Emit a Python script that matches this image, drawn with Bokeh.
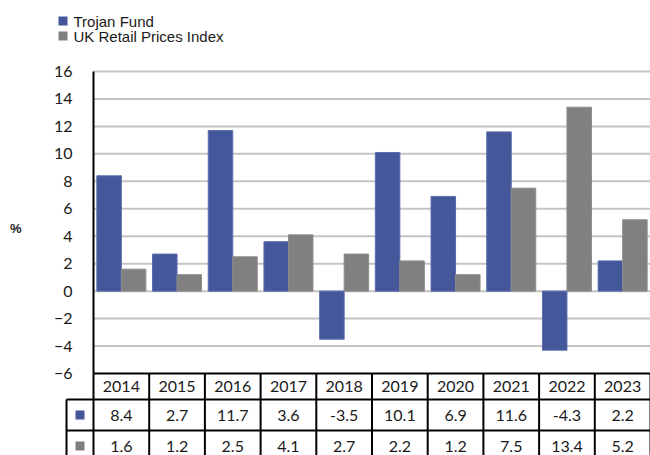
from bokeh.plotting import figure
from bokeh.models import Range1d, FixedTicker, ColumnDataSource, LinearAxis
from bokeh.embed import file_html
from bokeh.resources import INLINE
from bokeh.core.properties import value

# ---------------- data ----------------
years = ["2014", "2015", "2016", "2017", "2018", "2019", "2020", "2021", "2022", "2023"]
trojan_fund = [8.4, 2.7, 11.7, 3.6, -3.5, 10.1, 6.9, 11.6, -4.3, 2.2]
uk_rpi = [1.6, 1.2, 2.5, 4.1, 2.7, 2.2, 1.2, 7.5, 13.4, 5.2]
series_names = ["Trojan Fund", "UK Retail Prices Index"]
y_ticks = [-6, -4, -2, 0, 2, 4, 6, 8, 10, 12, 14, 16]

# ---------------- style / layout (pixels, figure coordinates) ----------------
BLUE = "#44579b"
GREY = "#808080"
colors = [BLUE, GREY]
NUM_FONT = "Lato"
LEG_FONT = "Liberation Sans"
TXT = "#1a1a1a"

W, H = 650, 455
BORDER_L = 54             # room for the y-axis panels
AXIS_X = 93               # where the value axis sits
PLOT_TOP = 71             # top of the value area (y = 16)
PLOT_H = 302              # height of value area (16 .. -6)
n = len(years)
CAT_W = (W - AXIS_X) / n  # width of one year column
PPU_Y = PLOT_H / (y_ticks[-1] - y_ticks[0])
MARK_W = 27               # marker column of the table
ROW_H = [26, 31, 31]
BAR_W = 0.44

frame_w = W - BORDER_L
x0 = -(AXIS_X - BORDER_L) / CAT_W
y1 = y_ticks[-1] + PLOT_TOP / PPU_Y
y0 = y1 - H / PPU_Y


def px_x(px):
    """figure pixel x -> data x"""
    return (px - AXIS_X) / CAT_W


def px_y(py):
    """figure pixel y (down) -> data y"""
    return y_ticks[-1] - (py - PLOT_TOP) / PPU_Y


p = figure(width=W, height=H, x_range=Range1d(x0, x0 + frame_w / CAT_W), y_range=Range1d(y0, y1),
           output_backend="svg", toolbar_location=None,
           min_border_left=BORDER_L, min_border_right=0, min_border_top=0, min_border_bottom=0,
           x_axis_location=None)
p.outline_line_color = None
p.grid.visible = False

# value axis, fixed at the start of the year columns
ax = p.yaxis[0]
ax.fixed_location = 0
ax.bounds = (y_ticks[0], y_ticks[-1])
ax.ticker = FixedTicker(ticks=y_ticks)
ax.axis_line_color = "black"
ax.axis_line_width = 2
ax.major_tick_line_color = None
ax.minor_tick_line_color = None
ax.major_label_text_font = NUM_FONT
ax.major_label_text_font_size = "16px"
ax.major_label_text_color = TXT
ax.major_label_standoff = 15

# outer axis that only carries the "%" unit title
unit_ax = LinearAxis(ticker=FixedTicker(ticks=[]), axis_label="%", axis_label_orientation="horizontal",
                     axis_label_standoff=33, axis_label_text_font=LEG_FONT, axis_label_text_font_size="13px",
                     axis_label_text_font_style="bold", axis_label_text_color=TXT,
                     axis_line_color=None, major_tick_line_color=None, minor_tick_line_color=None)
p.add_layout(unit_ax, "left")

# grid lines (only across the year columns)
g = y_ticks[1:]
p.segment(x0=[0] * len(g), y0=g, x1=[n] * len(g), y1=g, line_color="#c4c4c4", line_width=2)

centers = [i + 0.5 for i in range(n)]
src = ColumnDataSource(dict(
    xa=[c - BAR_W / 2 for c in centers], xb=[c + BAR_W / 2 for c in centers],
    a=trojan_fund, b=uk_rpi))
p.vbar(x="xa", top="a", bottom=0, width=BAR_W, fill_color=BLUE, line_color="#5b6cab", line_width=1, source=src)
p.vbar(x="xb", top="b", bottom=0, width=BAR_W, fill_color=GREY, line_color="#8c8c8c", line_width=1, source=src)

# ---------------- legend ----------------
LEG_SQ_X, LEG_Y0, LEG_DY = 62.5, 20.5, 15
k = range(len(series_names))
leg_src = ColumnDataSource(dict(
    x=[px_x(LEG_SQ_X)] * len(series_names),
    tx=[px_x(LEG_SQ_X + 10.5)] * len(series_names),
    y=[px_y(LEG_Y0 + LEG_DY * i) for i in k],
    name=series_names, color=colors))
p.scatter(x="x", y="y", marker="square", size=9, fill_color="color", line_color=None, source=leg_src)
p.text(x="tx", y="y", text="name", text_font=value(LEG_FONT), text_font_size="15px",
       text_baseline="middle", text_align="left", text_color=TXT, source=leg_src)

# ---------------- data table ----------------
table_top = PLOT_TOP + PLOT_H
row_edges = [table_top + sum(ROW_H[:i]) for i in range(len(ROW_H) + 1)]
ye = [px_y(r) for r in row_edges]
xm = px_x(AXIS_X - MARK_W)
hx0 = [0] + [xm] * (len(ye) - 1)
p.segment(x0=hx0, y0=ye, x1=[n] * len(ye), y1=ye, line_color="black", line_width=2)
p.segment(x0=list(range(n + 1)), y0=[ye[0]] * (n + 1), x1=list(range(n + 1)), y1=[ye[-1]] * (n + 1),
          line_color="black", line_width=2)
p.segment(x0=[xm], y0=[ye[1]], x1=[xm], y1=[ye[-1]], line_color="black", line_width=2)

row_c = [(ye[i] + ye[i + 1]) / 2 for i in range(len(ROW_H))]
tsrc = ColumnDataSource(dict(
    x=centers, years=years,
    a=[f"{v:.1f}" for v in trojan_fund], b=[f"{v:.1f}" for v in uk_rpi],
    ya=[row_c[0]] * n, yb=[row_c[1]] * n, yc=[row_c[2]] * n))
for col, ycol in (("years", "ya"), ("a", "yb"), ("b", "yc")):
    p.text(x="x", y=ycol, text=col, text_font=value(NUM_FONT), text_font_size="16px",
           text_align="center", text_baseline="middle", text_color=TXT, source=tsrc)
mx = px_x(AXIS_X - MARK_W / 2)
p.scatter(x=[mx, mx], y=row_c[1:], marker="square", size=9, fill_color=colors, line_color=None)

open("out.html", "w").write(file_html(p, INLINE))
